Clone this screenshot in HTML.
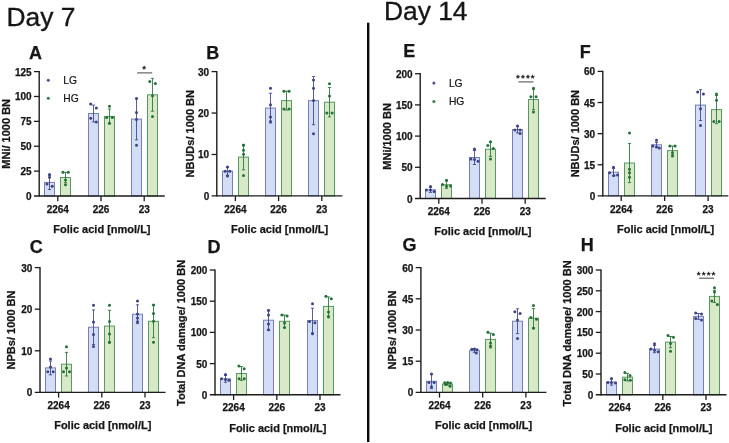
<!DOCTYPE html>
<html><head><meta charset="utf-8"><title>Folic acid figure</title>
<style>svg text[font-weight="bold"]{stroke:#161616;stroke-width:0.25}
html,body{margin:0;padding:0;background:#fff;width:729px;height:443px;overflow:hidden}
svg{display:block;font-family:"Liberation Sans", sans-serif;will-change:transform}</style></head>
<body>
<svg width="729" height="443" viewBox="0 0 729 443">
<rect width="729" height="443" fill="#ffffff"/>
<text x="6.4" y="25.9" font-size="26.4" stroke="#161616" stroke-width="0.35" fill="#161616" font-family='"Liberation Sans", sans-serif'>Day 7</text>
<text x="383.9" y="19.8" font-size="26.4" stroke="#161616" stroke-width="0.35" fill="#161616" font-family='"Liberation Sans", sans-serif'>Day 14</text>
<rect x="367.0" y="22.7" width="2.4" height="419.3" fill="#0a0a0a"/>
<rect x="44.5" y="182.4" width="10" height="13.6" fill="#d3def6" stroke="#7780b4" stroke-width="1"/>
<line x1="49.5" y1="175.3" x2="49.5" y2="189.5" stroke="#3d4185" stroke-width="0.85"/>
<line x1="47.9" y1="175.3" x2="51.1" y2="175.3" stroke="#3d4185" stroke-width="0.85"/>
<line x1="47.9" y1="189.5" x2="51.1" y2="189.5" stroke="#3d4185" stroke-width="0.85"/>
<circle cx="49.5" cy="174.6" r="1.5" fill="#3d4185"/>
<circle cx="49.5" cy="177.2" r="1.5" fill="#3d4185"/>
<circle cx="47" cy="184" r="1.5" fill="#3d4185"/>
<circle cx="52.2" cy="186.2" r="1.5" fill="#3d4185"/>
<rect x="60.5" y="177.5" width="10" height="18.5" fill="#d8e9c8" stroke="#5a9863" stroke-width="1"/>
<line x1="65.5" y1="172.3" x2="65.5" y2="182.7" stroke="#237038" stroke-width="0.85"/>
<line x1="63.9" y1="172.3" x2="67.1" y2="172.3" stroke="#237038" stroke-width="0.85"/>
<line x1="63.9" y1="182.7" x2="67.1" y2="182.7" stroke="#237038" stroke-width="0.85"/>
<circle cx="62.9" cy="172.3" r="1.5" fill="#237038"/>
<circle cx="68.3" cy="172.3" r="1.5" fill="#237038"/>
<circle cx="65.5" cy="180" r="1.5" fill="#237038"/>
<circle cx="65.5" cy="184.8" r="1.5" fill="#237038"/>
<rect x="88.5" y="113.5" width="10" height="82.5" fill="#d3def6" stroke="#7780b4" stroke-width="1"/>
<line x1="93.5" y1="105.1" x2="93.5" y2="121.9" stroke="#3d4185" stroke-width="0.85"/>
<line x1="91.9" y1="105.1" x2="95.1" y2="105.1" stroke="#3d4185" stroke-width="0.85"/>
<line x1="91.9" y1="121.9" x2="95.1" y2="121.9" stroke="#3d4185" stroke-width="0.85"/>
<circle cx="90.7" cy="104" r="1.5" fill="#3d4185"/>
<circle cx="96.3" cy="108.1" r="1.5" fill="#3d4185"/>
<circle cx="90.7" cy="118.2" r="1.5" fill="#3d4185"/>
<circle cx="96.3" cy="122.1" r="1.5" fill="#3d4185"/>
<rect x="104.5" y="116.4" width="10" height="79.6" fill="#d8e9c8" stroke="#5a9863" stroke-width="1"/>
<line x1="109.5" y1="109" x2="109.5" y2="123.8" stroke="#237038" stroke-width="0.85"/>
<line x1="107.9" y1="109" x2="111.1" y2="109" stroke="#237038" stroke-width="0.85"/>
<line x1="107.9" y1="123.8" x2="111.1" y2="123.8" stroke="#237038" stroke-width="0.85"/>
<circle cx="109.5" cy="106.3" r="1.5" fill="#237038"/>
<circle cx="106.7" cy="117.6" r="1.5" fill="#237038"/>
<circle cx="112.3" cy="117.6" r="1.5" fill="#237038"/>
<circle cx="109.5" cy="123.2" r="1.5" fill="#237038"/>
<rect x="131.5" y="119.1" width="10" height="76.9" fill="#d3def6" stroke="#7780b4" stroke-width="1"/>
<line x1="136.5" y1="98.4" x2="136.5" y2="139.8" stroke="#3d4185" stroke-width="0.85"/>
<line x1="134.9" y1="98.4" x2="138.1" y2="98.4" stroke="#3d4185" stroke-width="0.85"/>
<line x1="134.9" y1="139.8" x2="138.1" y2="139.8" stroke="#3d4185" stroke-width="0.85"/>
<circle cx="136.5" cy="98.4" r="1.5" fill="#3d4185"/>
<circle cx="136.5" cy="112.4" r="1.5" fill="#3d4185"/>
<circle cx="136.5" cy="119.4" r="1.5" fill="#3d4185"/>
<circle cx="136.5" cy="145.3" r="1.5" fill="#3d4185"/>
<rect x="147.5" y="94.8" width="10" height="101.2" fill="#d8e9c8" stroke="#5a9863" stroke-width="1"/>
<line x1="152.5" y1="78.4" x2="152.5" y2="111.2" stroke="#237038" stroke-width="0.85"/>
<line x1="150.9" y1="78.4" x2="154.1" y2="78.4" stroke="#237038" stroke-width="0.85"/>
<line x1="150.9" y1="111.2" x2="154.1" y2="111.2" stroke="#237038" stroke-width="0.85"/>
<circle cx="149.8" cy="81.4" r="1.5" fill="#237038"/>
<circle cx="155.4" cy="83.5" r="1.5" fill="#237038"/>
<circle cx="152.5" cy="95.7" r="1.5" fill="#237038"/>
<circle cx="152.5" cy="116.5" r="1.5" fill="#237038"/>
<line x1="39.2" y1="71" x2="39.2" y2="196.6" stroke="#1c1c1c" stroke-width="1.4"/>
<line x1="34" y1="196" x2="164.7" y2="196" stroke="#1c1c1c" stroke-width="1.4"/>
<text x="31.6" y="200" font-size="10" font-weight="bold" text-anchor="end" fill="#161616" font-family='"Liberation Sans", sans-serif'>0</text>
<line x1="34" y1="171.12" x2="39.2" y2="171.12" stroke="#1c1c1c" stroke-width="1.3"/>
<text x="31.6" y="175.12" font-size="10" font-weight="bold" text-anchor="end" fill="#161616" font-family='"Liberation Sans", sans-serif'>25</text>
<line x1="34" y1="146.24" x2="39.2" y2="146.24" stroke="#1c1c1c" stroke-width="1.3"/>
<text x="31.6" y="150.24" font-size="10" font-weight="bold" text-anchor="end" fill="#161616" font-family='"Liberation Sans", sans-serif'>50</text>
<line x1="34" y1="121.36" x2="39.2" y2="121.36" stroke="#1c1c1c" stroke-width="1.3"/>
<text x="31.6" y="125.36" font-size="10" font-weight="bold" text-anchor="end" fill="#161616" font-family='"Liberation Sans", sans-serif'>75</text>
<line x1="34" y1="96.48" x2="39.2" y2="96.48" stroke="#1c1c1c" stroke-width="1.3"/>
<text x="31.6" y="100.48" font-size="10" font-weight="bold" text-anchor="end" fill="#161616" font-family='"Liberation Sans", sans-serif'>100</text>
<line x1="34" y1="71.6" x2="39.2" y2="71.6" stroke="#1c1c1c" stroke-width="1.3"/>
<text x="31.6" y="75.6" font-size="10" font-weight="bold" text-anchor="end" fill="#161616" font-family='"Liberation Sans", sans-serif'>125</text>
<line x1="57.8" y1="196" x2="57.8" y2="201.2" stroke="#1c1c1c" stroke-width="1.3"/>
<text x="57.8" y="212.6" font-size="10" font-weight="bold" text-anchor="middle" fill="#161616" font-family='"Liberation Sans", sans-serif'>2264</text>
<line x1="101" y1="196" x2="101" y2="201.2" stroke="#1c1c1c" stroke-width="1.3"/>
<text x="101" y="212.6" font-size="10" font-weight="bold" text-anchor="middle" fill="#161616" font-family='"Liberation Sans", sans-serif'>226</text>
<line x1="144.2" y1="196" x2="144.2" y2="201.2" stroke="#1c1c1c" stroke-width="1.3"/>
<text x="144.2" y="212.6" font-size="10" font-weight="bold" text-anchor="middle" fill="#161616" font-family='"Liberation Sans", sans-serif'>23</text>
<text x="101.95" y="232.8" font-size="11" font-weight="bold" text-anchor="middle" fill="#161616" font-family='"Liberation Sans", sans-serif'>Folic acid [nmol/L]</text>
<text x="10.46" y="133.8" font-size="11" font-weight="bold" text-anchor="middle" fill="#161616" font-family='"Liberation Sans", sans-serif' transform="rotate(-90 10.46 133.8)">MNi/ 1000 BN</text>
<text x="29" y="58.6" font-size="18" font-weight="bold" fill="#161616" font-family='"Liberation Sans", sans-serif'>A</text>
<circle cx="48.3" cy="80.3" r="1.55" fill="#3d4185" fill-opacity="0.9"/>
<circle cx="48.3" cy="98.3" r="1.55" fill="#237038" fill-opacity="0.9"/>
<text x="63.3" y="83.7" font-size="10.3" stroke="#161616" stroke-width="0.2" fill="#161616" font-family='"Liberation Sans", sans-serif'>LG</text>
<text x="63.3" y="101.7" font-size="10.3" stroke="#161616" stroke-width="0.2" fill="#161616" font-family='"Liberation Sans", sans-serif'>HG</text>
<text x="144.8" y="72.4" font-size="9.8" stroke="#161616" stroke-width="0.35" letter-spacing="1.1" text-anchor="middle" fill="#161616" font-family='"Liberation Sans", sans-serif'>*</text>
<line x1="137.1" y1="72.9" x2="152.2" y2="72.9" stroke="#555555" stroke-width="1.1"/>
<rect x="222.5" y="171.2" width="10" height="24.7" fill="#d3def6" stroke="#7780b4" stroke-width="1"/>
<line x1="227.5" y1="167.1" x2="227.5" y2="175.3" stroke="#3d4185" stroke-width="0.85"/>
<line x1="225.9" y1="167.1" x2="229.1" y2="167.1" stroke="#3d4185" stroke-width="0.85"/>
<line x1="225.9" y1="175.3" x2="229.1" y2="175.3" stroke="#3d4185" stroke-width="0.85"/>
<circle cx="227.5" cy="167.1" r="1.5" fill="#3d4185"/>
<circle cx="225.2" cy="171.2" r="1.5" fill="#3d4185"/>
<circle cx="229.8" cy="171.2" r="1.5" fill="#3d4185"/>
<circle cx="227.5" cy="176.1" r="1.5" fill="#3d4185"/>
<rect x="238.5" y="157.1" width="10" height="38.8" fill="#d8e9c8" stroke="#5a9863" stroke-width="1"/>
<line x1="243.5" y1="144.4" x2="243.5" y2="169.8" stroke="#237038" stroke-width="0.85"/>
<line x1="241.9" y1="144.4" x2="245.1" y2="144.4" stroke="#237038" stroke-width="0.85"/>
<line x1="241.9" y1="169.8" x2="245.1" y2="169.8" stroke="#237038" stroke-width="0.85"/>
<circle cx="243.5" cy="145.2" r="1.5" fill="#237038"/>
<circle cx="243.5" cy="150.2" r="1.5" fill="#237038"/>
<circle cx="243.5" cy="154.3" r="1.5" fill="#237038"/>
<circle cx="243.5" cy="175.6" r="1.5" fill="#237038"/>
<rect x="265.5" y="108.1" width="10" height="87.8" fill="#d3def6" stroke="#7780b4" stroke-width="1"/>
<line x1="270.5" y1="93.2" x2="270.5" y2="123" stroke="#3d4185" stroke-width="0.85"/>
<line x1="268.9" y1="93.2" x2="272.1" y2="93.2" stroke="#3d4185" stroke-width="0.85"/>
<line x1="268.9" y1="123" x2="272.1" y2="123" stroke="#3d4185" stroke-width="0.85"/>
<circle cx="270.5" cy="88.2" r="1.5" fill="#3d4185"/>
<circle cx="270.5" cy="104.7" r="1.5" fill="#3d4185"/>
<circle cx="270.5" cy="116.9" r="1.5" fill="#3d4185"/>
<circle cx="270.5" cy="121.4" r="1.5" fill="#3d4185"/>
<rect x="281.5" y="100.6" width="10" height="95.3" fill="#d8e9c8" stroke="#5a9863" stroke-width="1"/>
<line x1="286.5" y1="91.2" x2="286.5" y2="110" stroke="#237038" stroke-width="0.85"/>
<line x1="284.9" y1="91.2" x2="288.1" y2="91.2" stroke="#237038" stroke-width="0.85"/>
<line x1="284.9" y1="110" x2="288.1" y2="110" stroke="#237038" stroke-width="0.85"/>
<circle cx="283.9" cy="91.2" r="1.5" fill="#237038"/>
<circle cx="289.1" cy="91.2" r="1.5" fill="#237038"/>
<circle cx="283.9" cy="109" r="1.5" fill="#237038"/>
<circle cx="289.1" cy="109" r="1.5" fill="#237038"/>
<rect x="308.5" y="100.6" width="10" height="95.3" fill="#d3def6" stroke="#7780b4" stroke-width="1"/>
<line x1="313.5" y1="76.5" x2="313.5" y2="124.7" stroke="#3d4185" stroke-width="0.85"/>
<line x1="311.9" y1="76.5" x2="315.1" y2="76.5" stroke="#3d4185" stroke-width="0.85"/>
<line x1="311.9" y1="124.7" x2="315.1" y2="124.7" stroke="#3d4185" stroke-width="0.85"/>
<circle cx="313.5" cy="79.9" r="1.5" fill="#3d4185"/>
<circle cx="313.5" cy="88.2" r="1.5" fill="#3d4185"/>
<circle cx="313.5" cy="100.6" r="1.5" fill="#3d4185"/>
<circle cx="313.5" cy="133.8" r="1.5" fill="#3d4185"/>
<rect x="324.5" y="102.2" width="10" height="93.7" fill="#d8e9c8" stroke="#5a9863" stroke-width="1"/>
<line x1="329.5" y1="87.5" x2="329.5" y2="116.9" stroke="#237038" stroke-width="0.85"/>
<line x1="327.9" y1="87.5" x2="331.1" y2="87.5" stroke="#237038" stroke-width="0.85"/>
<line x1="327.9" y1="116.9" x2="331.1" y2="116.9" stroke="#237038" stroke-width="0.85"/>
<circle cx="329.5" cy="83.7" r="1.5" fill="#237038"/>
<circle cx="329.5" cy="96.1" r="1.5" fill="#237038"/>
<circle cx="326.9" cy="113" r="1.5" fill="#237038"/>
<circle cx="332.1" cy="113" r="1.5" fill="#237038"/>
<line x1="216.8" y1="71" x2="216.8" y2="196.5" stroke="#1c1c1c" stroke-width="1.4"/>
<line x1="211.6" y1="195.9" x2="342.3" y2="195.9" stroke="#1c1c1c" stroke-width="1.4"/>
<text x="209.2" y="199.9" font-size="10" font-weight="bold" text-anchor="end" fill="#161616" font-family='"Liberation Sans", sans-serif'>0</text>
<line x1="211.6" y1="154.47" x2="216.8" y2="154.47" stroke="#1c1c1c" stroke-width="1.3"/>
<text x="209.2" y="158.47" font-size="10" font-weight="bold" text-anchor="end" fill="#161616" font-family='"Liberation Sans", sans-serif'>10</text>
<line x1="211.6" y1="113.03" x2="216.8" y2="113.03" stroke="#1c1c1c" stroke-width="1.3"/>
<text x="209.2" y="117.03" font-size="10" font-weight="bold" text-anchor="end" fill="#161616" font-family='"Liberation Sans", sans-serif'>20</text>
<line x1="211.6" y1="71.6" x2="216.8" y2="71.6" stroke="#1c1c1c" stroke-width="1.3"/>
<text x="209.2" y="75.6" font-size="10" font-weight="bold" text-anchor="end" fill="#161616" font-family='"Liberation Sans", sans-serif'>30</text>
<line x1="235.4" y1="195.9" x2="235.4" y2="201.1" stroke="#1c1c1c" stroke-width="1.3"/>
<text x="235.4" y="212.5" font-size="10" font-weight="bold" text-anchor="middle" fill="#161616" font-family='"Liberation Sans", sans-serif'>2264</text>
<line x1="278.6" y1="195.9" x2="278.6" y2="201.1" stroke="#1c1c1c" stroke-width="1.3"/>
<text x="278.6" y="212.5" font-size="10" font-weight="bold" text-anchor="middle" fill="#161616" font-family='"Liberation Sans", sans-serif'>226</text>
<line x1="321.8" y1="195.9" x2="321.8" y2="201.1" stroke="#1c1c1c" stroke-width="1.3"/>
<text x="321.8" y="212.5" font-size="10" font-weight="bold" text-anchor="middle" fill="#161616" font-family='"Liberation Sans", sans-serif'>23</text>
<text x="279.55" y="232.7" font-size="11" font-weight="bold" text-anchor="middle" fill="#161616" font-family='"Liberation Sans", sans-serif'>Folic acid [nmol/L]</text>
<text x="193.96" y="133.75" font-size="11" font-weight="bold" text-anchor="middle" fill="#161616" font-family='"Liberation Sans", sans-serif' transform="rotate(-90 193.96 133.75)">NBUDs/ 1000 BN</text>
<text x="206.2" y="59.2" font-size="18" font-weight="bold" fill="#161616" font-family='"Liberation Sans", sans-serif'>B</text>
<rect x="45.5" y="367.9" width="10" height="24.5" fill="#d3def6" stroke="#7780b4" stroke-width="1"/>
<line x1="50.5" y1="361" x2="50.5" y2="374.8" stroke="#3d4185" stroke-width="0.85"/>
<line x1="48.9" y1="361" x2="52.1" y2="361" stroke="#3d4185" stroke-width="0.85"/>
<line x1="48.9" y1="374.8" x2="52.1" y2="374.8" stroke="#3d4185" stroke-width="0.85"/>
<circle cx="50.5" cy="358.9" r="1.5" fill="#3d4185"/>
<circle cx="50.5" cy="367" r="1.5" fill="#3d4185"/>
<circle cx="47.8" cy="371.7" r="1.5" fill="#3d4185"/>
<circle cx="53.2" cy="371.7" r="1.5" fill="#3d4185"/>
<rect x="61.5" y="364.2" width="10" height="28.2" fill="#d8e9c8" stroke="#5a9863" stroke-width="1"/>
<line x1="66.5" y1="352.4" x2="66.5" y2="376" stroke="#237038" stroke-width="0.85"/>
<line x1="64.9" y1="352.4" x2="68.1" y2="352.4" stroke="#237038" stroke-width="0.85"/>
<line x1="64.9" y1="376" x2="68.1" y2="376" stroke="#237038" stroke-width="0.85"/>
<circle cx="66.5" cy="346.8" r="1.5" fill="#237038"/>
<circle cx="66.5" cy="368" r="1.5" fill="#237038"/>
<circle cx="63.5" cy="371.7" r="1.5" fill="#237038"/>
<circle cx="69.5" cy="371.7" r="1.5" fill="#237038"/>
<rect x="88.5" y="327.2" width="10" height="65.2" fill="#d3def6" stroke="#7780b4" stroke-width="1"/>
<line x1="93.5" y1="309.9" x2="93.5" y2="344.5" stroke="#3d4185" stroke-width="0.85"/>
<line x1="91.9" y1="309.9" x2="95.1" y2="309.9" stroke="#3d4185" stroke-width="0.85"/>
<line x1="91.9" y1="344.5" x2="95.1" y2="344.5" stroke="#3d4185" stroke-width="0.85"/>
<circle cx="93.5" cy="305.3" r="1.5" fill="#3d4185"/>
<circle cx="93.5" cy="322" r="1.5" fill="#3d4185"/>
<circle cx="93.5" cy="334.5" r="1.5" fill="#3d4185"/>
<circle cx="93.5" cy="346.4" r="1.5" fill="#3d4185"/>
<rect x="104.5" y="326.1" width="10" height="66.3" fill="#d8e9c8" stroke="#5a9863" stroke-width="1"/>
<line x1="109.5" y1="310.3" x2="109.5" y2="341.9" stroke="#237038" stroke-width="0.85"/>
<line x1="107.9" y1="310.3" x2="111.1" y2="310.3" stroke="#237038" stroke-width="0.85"/>
<line x1="107.9" y1="341.9" x2="111.1" y2="341.9" stroke="#237038" stroke-width="0.85"/>
<circle cx="109.5" cy="305.3" r="1.5" fill="#237038"/>
<circle cx="109.5" cy="321.6" r="1.5" fill="#237038"/>
<circle cx="109.5" cy="334" r="1.5" fill="#237038"/>
<circle cx="109.5" cy="342.6" r="1.5" fill="#237038"/>
<rect x="132.5" y="314.2" width="10" height="78.2" fill="#d3def6" stroke="#7780b4" stroke-width="1"/>
<line x1="137.5" y1="304.8" x2="137.5" y2="323.6" stroke="#3d4185" stroke-width="0.85"/>
<line x1="135.9" y1="304.8" x2="139.1" y2="304.8" stroke="#3d4185" stroke-width="0.85"/>
<line x1="135.9" y1="323.6" x2="139.1" y2="323.6" stroke="#3d4185" stroke-width="0.85"/>
<circle cx="137.5" cy="301" r="1.5" fill="#3d4185"/>
<circle cx="137.5" cy="313.9" r="1.5" fill="#3d4185"/>
<circle cx="137.5" cy="318" r="1.5" fill="#3d4185"/>
<circle cx="137.5" cy="321.7" r="1.5" fill="#3d4185"/>
<rect x="148.5" y="321.3" width="10" height="71.1" fill="#d8e9c8" stroke="#5a9863" stroke-width="1"/>
<line x1="153.5" y1="304.9" x2="153.5" y2="337.7" stroke="#237038" stroke-width="0.85"/>
<line x1="151.9" y1="304.9" x2="155.1" y2="304.9" stroke="#237038" stroke-width="0.85"/>
<line x1="151.9" y1="337.7" x2="155.1" y2="337.7" stroke="#237038" stroke-width="0.85"/>
<circle cx="153.5" cy="304.9" r="1.5" fill="#237038"/>
<circle cx="153.5" cy="313.6" r="1.5" fill="#237038"/>
<circle cx="153.5" cy="321.3" r="1.5" fill="#237038"/>
<circle cx="153.5" cy="342.2" r="1.5" fill="#237038"/>
<line x1="40" y1="267" x2="40" y2="393" stroke="#1c1c1c" stroke-width="1.4"/>
<line x1="34.8" y1="392.4" x2="165.5" y2="392.4" stroke="#1c1c1c" stroke-width="1.4"/>
<text x="32.4" y="396.4" font-size="10" font-weight="bold" text-anchor="end" fill="#161616" font-family='"Liberation Sans", sans-serif'>0</text>
<line x1="34.8" y1="350.8" x2="40" y2="350.8" stroke="#1c1c1c" stroke-width="1.3"/>
<text x="32.4" y="354.8" font-size="10" font-weight="bold" text-anchor="end" fill="#161616" font-family='"Liberation Sans", sans-serif'>10</text>
<line x1="34.8" y1="309.2" x2="40" y2="309.2" stroke="#1c1c1c" stroke-width="1.3"/>
<text x="32.4" y="313.2" font-size="10" font-weight="bold" text-anchor="end" fill="#161616" font-family='"Liberation Sans", sans-serif'>20</text>
<line x1="34.8" y1="267.6" x2="40" y2="267.6" stroke="#1c1c1c" stroke-width="1.3"/>
<text x="32.4" y="271.6" font-size="10" font-weight="bold" text-anchor="end" fill="#161616" font-family='"Liberation Sans", sans-serif'>30</text>
<line x1="58.6" y1="392.4" x2="58.6" y2="397.6" stroke="#1c1c1c" stroke-width="1.3"/>
<text x="58.6" y="409" font-size="10" font-weight="bold" text-anchor="middle" fill="#161616" font-family='"Liberation Sans", sans-serif'>2264</text>
<line x1="101.8" y1="392.4" x2="101.8" y2="397.6" stroke="#1c1c1c" stroke-width="1.3"/>
<text x="101.8" y="409" font-size="10" font-weight="bold" text-anchor="middle" fill="#161616" font-family='"Liberation Sans", sans-serif'>226</text>
<line x1="145" y1="392.4" x2="145" y2="397.6" stroke="#1c1c1c" stroke-width="1.3"/>
<text x="145" y="409" font-size="10" font-weight="bold" text-anchor="middle" fill="#161616" font-family='"Liberation Sans", sans-serif'>23</text>
<text x="102.75" y="429.2" font-size="11" font-weight="bold" text-anchor="middle" fill="#161616" font-family='"Liberation Sans", sans-serif'>Folic acid [nmol/L]</text>
<text x="15.26" y="330" font-size="11" font-weight="bold" text-anchor="middle" fill="#161616" font-family='"Liberation Sans", sans-serif' transform="rotate(-90 15.26 330)">NPBs/ 1000 BN</text>
<text x="29.7" y="252.6" font-size="18" font-weight="bold" fill="#161616" font-family='"Liberation Sans", sans-serif'>C</text>
<rect x="220.5" y="378.9" width="10" height="15.9" fill="#d3def6" stroke="#7780b4" stroke-width="1"/>
<line x1="225.5" y1="375.5" x2="225.5" y2="382.3" stroke="#3d4185" stroke-width="0.85"/>
<line x1="223.9" y1="375.5" x2="227.1" y2="375.5" stroke="#3d4185" stroke-width="0.85"/>
<line x1="223.9" y1="382.3" x2="227.1" y2="382.3" stroke="#3d4185" stroke-width="0.85"/>
<circle cx="225.5" cy="374.4" r="1.5" fill="#3d4185"/>
<circle cx="221.5" cy="378.7" r="1.5" fill="#3d4185"/>
<circle cx="225.5" cy="379.6" r="1.5" fill="#3d4185"/>
<circle cx="228.9" cy="380.3" r="1.5" fill="#3d4185"/>
<rect x="236.5" y="373.5" width="10" height="21.3" fill="#d8e9c8" stroke="#5a9863" stroke-width="1"/>
<line x1="241.5" y1="366.6" x2="241.5" y2="380.4" stroke="#237038" stroke-width="0.85"/>
<line x1="239.9" y1="366.6" x2="243.1" y2="366.6" stroke="#237038" stroke-width="0.85"/>
<line x1="239.9" y1="380.4" x2="243.1" y2="380.4" stroke="#237038" stroke-width="0.85"/>
<circle cx="238.9" cy="366" r="1.5" fill="#237038"/>
<circle cx="244.2" cy="368.7" r="1.5" fill="#237038"/>
<circle cx="239.1" cy="378.7" r="1.5" fill="#237038"/>
<circle cx="244.2" cy="378.7" r="1.5" fill="#237038"/>
<rect x="263.5" y="320.2" width="10" height="74.6" fill="#d3def6" stroke="#7780b4" stroke-width="1"/>
<line x1="268.5" y1="310" x2="268.5" y2="330.4" stroke="#3d4185" stroke-width="0.85"/>
<line x1="266.9" y1="310" x2="270.1" y2="310" stroke="#3d4185" stroke-width="0.85"/>
<line x1="266.9" y1="330.4" x2="270.1" y2="330.4" stroke="#3d4185" stroke-width="0.85"/>
<circle cx="268.5" cy="310.5" r="1.5" fill="#3d4185"/>
<circle cx="268.5" cy="315" r="1.5" fill="#3d4185"/>
<circle cx="268.5" cy="324" r="1.5" fill="#3d4185"/>
<circle cx="268.5" cy="329.7" r="1.5" fill="#3d4185"/>
<rect x="279.5" y="321.3" width="10" height="73.5" fill="#d8e9c8" stroke="#5a9863" stroke-width="1"/>
<line x1="284.5" y1="315" x2="284.5" y2="327.6" stroke="#237038" stroke-width="0.85"/>
<line x1="282.9" y1="315" x2="286.1" y2="315" stroke="#237038" stroke-width="0.85"/>
<line x1="282.9" y1="327.6" x2="286.1" y2="327.6" stroke="#237038" stroke-width="0.85"/>
<circle cx="281.9" cy="315" r="1.5" fill="#237038"/>
<circle cx="287.1" cy="316" r="1.5" fill="#237038"/>
<circle cx="284.5" cy="322.9" r="1.5" fill="#237038"/>
<circle cx="284.5" cy="327.4" r="1.5" fill="#237038"/>
<rect x="307.5" y="320.6" width="10" height="74.2" fill="#d3def6" stroke="#7780b4" stroke-width="1"/>
<line x1="312.5" y1="308.2" x2="312.5" y2="333" stroke="#3d4185" stroke-width="0.85"/>
<line x1="310.9" y1="308.2" x2="314.1" y2="308.2" stroke="#3d4185" stroke-width="0.85"/>
<line x1="310.9" y1="333" x2="314.1" y2="333" stroke="#3d4185" stroke-width="0.85"/>
<circle cx="312.5" cy="303.7" r="1.5" fill="#3d4185"/>
<circle cx="309.5" cy="321.4" r="1.5" fill="#3d4185"/>
<circle cx="314.9" cy="322.8" r="1.5" fill="#3d4185"/>
<circle cx="312.5" cy="333.7" r="1.5" fill="#3d4185"/>
<rect x="323.5" y="306.4" width="10" height="88.4" fill="#d8e9c8" stroke="#5a9863" stroke-width="1"/>
<line x1="328.5" y1="296.9" x2="328.5" y2="315.9" stroke="#237038" stroke-width="0.85"/>
<line x1="326.9" y1="296.9" x2="330.1" y2="296.9" stroke="#237038" stroke-width="0.85"/>
<line x1="326.9" y1="315.9" x2="330.1" y2="315.9" stroke="#237038" stroke-width="0.85"/>
<circle cx="325.9" cy="296.2" r="1.5" fill="#237038"/>
<circle cx="331.3" cy="298.8" r="1.5" fill="#237038"/>
<circle cx="328.5" cy="312" r="1.5" fill="#237038"/>
<circle cx="328.5" cy="317.1" r="1.5" fill="#237038"/>
<line x1="215" y1="269.4" x2="215" y2="395.4" stroke="#1c1c1c" stroke-width="1.4"/>
<line x1="209.8" y1="394.8" x2="340.5" y2="394.8" stroke="#1c1c1c" stroke-width="1.4"/>
<text x="207.4" y="398.8" font-size="10" font-weight="bold" text-anchor="end" fill="#161616" font-family='"Liberation Sans", sans-serif'>0</text>
<line x1="209.8" y1="363.6" x2="215" y2="363.6" stroke="#1c1c1c" stroke-width="1.3"/>
<text x="207.4" y="367.6" font-size="10" font-weight="bold" text-anchor="end" fill="#161616" font-family='"Liberation Sans", sans-serif'>50</text>
<line x1="209.8" y1="332.4" x2="215" y2="332.4" stroke="#1c1c1c" stroke-width="1.3"/>
<text x="207.4" y="336.4" font-size="10" font-weight="bold" text-anchor="end" fill="#161616" font-family='"Liberation Sans", sans-serif'>100</text>
<line x1="209.8" y1="301.2" x2="215" y2="301.2" stroke="#1c1c1c" stroke-width="1.3"/>
<text x="207.4" y="305.2" font-size="10" font-weight="bold" text-anchor="end" fill="#161616" font-family='"Liberation Sans", sans-serif'>150</text>
<line x1="209.8" y1="270" x2="215" y2="270" stroke="#1c1c1c" stroke-width="1.3"/>
<text x="207.4" y="274" font-size="10" font-weight="bold" text-anchor="end" fill="#161616" font-family='"Liberation Sans", sans-serif'>200</text>
<line x1="233.6" y1="394.8" x2="233.6" y2="400" stroke="#1c1c1c" stroke-width="1.3"/>
<text x="233.6" y="411.4" font-size="10" font-weight="bold" text-anchor="middle" fill="#161616" font-family='"Liberation Sans", sans-serif'>2264</text>
<line x1="276.8" y1="394.8" x2="276.8" y2="400" stroke="#1c1c1c" stroke-width="1.3"/>
<text x="276.8" y="411.4" font-size="10" font-weight="bold" text-anchor="middle" fill="#161616" font-family='"Liberation Sans", sans-serif'>226</text>
<line x1="320" y1="394.8" x2="320" y2="400" stroke="#1c1c1c" stroke-width="1.3"/>
<text x="320" y="411.4" font-size="10" font-weight="bold" text-anchor="middle" fill="#161616" font-family='"Liberation Sans", sans-serif'>23</text>
<text x="277.75" y="431.6" font-size="11" font-weight="bold" text-anchor="middle" fill="#161616" font-family='"Liberation Sans", sans-serif'>Folic acid [nmol/L]</text>
<text x="185.16" y="332.9" font-size="11" font-weight="bold" text-anchor="middle" fill="#161616" font-family='"Liberation Sans", sans-serif' transform="rotate(-90 185.16 332.9)">Total DNA damage/ 1000 BN</text>
<text x="207.5" y="252.6" font-size="18" font-weight="bold" fill="#161616" font-family='"Liberation Sans", sans-serif'>D</text>
<rect x="425.5" y="189.8" width="10" height="8.7" fill="#d3def6" stroke="#7780b4" stroke-width="1"/>
<line x1="430.5" y1="187.2" x2="430.5" y2="192.4" stroke="#3d4185" stroke-width="0.85"/>
<line x1="428.9" y1="187.2" x2="432.1" y2="187.2" stroke="#3d4185" stroke-width="0.85"/>
<line x1="428.9" y1="192.4" x2="432.1" y2="192.4" stroke="#3d4185" stroke-width="0.85"/>
<circle cx="426.4" cy="190" r="1.5" fill="#3d4185"/>
<circle cx="430.5" cy="186.6" r="1.5" fill="#3d4185"/>
<circle cx="430.5" cy="190" r="1.5" fill="#3d4185"/>
<circle cx="434.1" cy="191.5" r="1.5" fill="#3d4185"/>
<rect x="441.5" y="184.7" width="10" height="13.8" fill="#d8e9c8" stroke="#5a9863" stroke-width="1"/>
<line x1="446.5" y1="181" x2="446.5" y2="188.4" stroke="#237038" stroke-width="0.85"/>
<line x1="444.9" y1="181" x2="448.1" y2="181" stroke="#237038" stroke-width="0.85"/>
<line x1="444.9" y1="188.4" x2="448.1" y2="188.4" stroke="#237038" stroke-width="0.85"/>
<circle cx="446.5" cy="180.2" r="1.5" fill="#237038"/>
<circle cx="442.5" cy="184.6" r="1.5" fill="#237038"/>
<circle cx="446.5" cy="186.2" r="1.5" fill="#237038"/>
<circle cx="450.5" cy="185.9" r="1.5" fill="#237038"/>
<rect x="469.5" y="157.5" width="10" height="41" fill="#d3def6" stroke="#7780b4" stroke-width="1"/>
<line x1="474.5" y1="150.5" x2="474.5" y2="164.5" stroke="#3d4185" stroke-width="0.85"/>
<line x1="472.9" y1="150.5" x2="476.1" y2="150.5" stroke="#3d4185" stroke-width="0.85"/>
<line x1="472.9" y1="164.5" x2="476.1" y2="164.5" stroke="#3d4185" stroke-width="0.85"/>
<circle cx="474.5" cy="149" r="1.5" fill="#3d4185"/>
<circle cx="470.9" cy="158.9" r="1.5" fill="#3d4185"/>
<circle cx="474.5" cy="159.6" r="1.5" fill="#3d4185"/>
<circle cx="478.1" cy="161.2" r="1.5" fill="#3d4185"/>
<rect x="485.5" y="149.2" width="10" height="49.3" fill="#d8e9c8" stroke="#5a9863" stroke-width="1"/>
<line x1="490.5" y1="142" x2="490.5" y2="156.4" stroke="#237038" stroke-width="0.85"/>
<line x1="488.9" y1="142" x2="492.1" y2="142" stroke="#237038" stroke-width="0.85"/>
<line x1="488.9" y1="156.4" x2="492.1" y2="156.4" stroke="#237038" stroke-width="0.85"/>
<circle cx="490.5" cy="141.7" r="1.5" fill="#237038"/>
<circle cx="487.8" cy="145.4" r="1.5" fill="#237038"/>
<circle cx="493.3" cy="148.6" r="1.5" fill="#237038"/>
<circle cx="490.5" cy="158.9" r="1.5" fill="#237038"/>
<rect x="512.5" y="129.5" width="10" height="69" fill="#d3def6" stroke="#7780b4" stroke-width="1"/>
<line x1="517.5" y1="126" x2="517.5" y2="133" stroke="#3d4185" stroke-width="0.85"/>
<line x1="515.9" y1="126" x2="519.1" y2="126" stroke="#3d4185" stroke-width="0.85"/>
<line x1="515.9" y1="133" x2="519.1" y2="133" stroke="#3d4185" stroke-width="0.85"/>
<circle cx="517.5" cy="126.1" r="1.5" fill="#3d4185"/>
<circle cx="514.9" cy="130" r="1.5" fill="#3d4185"/>
<circle cx="520.1" cy="130" r="1.5" fill="#3d4185"/>
<circle cx="520.1" cy="133.4" r="1.5" fill="#3d4185"/>
<rect x="528.5" y="99.5" width="10" height="99" fill="#d8e9c8" stroke="#5a9863" stroke-width="1"/>
<line x1="533.5" y1="89.3" x2="533.5" y2="109.7" stroke="#237038" stroke-width="0.85"/>
<line x1="531.9" y1="89.3" x2="535.1" y2="89.3" stroke="#237038" stroke-width="0.85"/>
<line x1="531.9" y1="109.7" x2="535.1" y2="109.7" stroke="#237038" stroke-width="0.85"/>
<circle cx="533.5" cy="88.2" r="1.5" fill="#237038"/>
<circle cx="530.9" cy="96.8" r="1.5" fill="#237038"/>
<circle cx="536.1" cy="96.8" r="1.5" fill="#237038"/>
<circle cx="533.5" cy="111.9" r="1.5" fill="#237038"/>
<line x1="420.2" y1="73.1" x2="420.2" y2="199.1" stroke="#1c1c1c" stroke-width="1.4"/>
<line x1="415" y1="198.5" x2="545.7" y2="198.5" stroke="#1c1c1c" stroke-width="1.4"/>
<text x="412.6" y="202.5" font-size="10" font-weight="bold" text-anchor="end" fill="#161616" font-family='"Liberation Sans", sans-serif'>0</text>
<line x1="415" y1="167.3" x2="420.2" y2="167.3" stroke="#1c1c1c" stroke-width="1.3"/>
<text x="412.6" y="171.3" font-size="10" font-weight="bold" text-anchor="end" fill="#161616" font-family='"Liberation Sans", sans-serif'>50</text>
<line x1="415" y1="136.1" x2="420.2" y2="136.1" stroke="#1c1c1c" stroke-width="1.3"/>
<text x="412.6" y="140.1" font-size="10" font-weight="bold" text-anchor="end" fill="#161616" font-family='"Liberation Sans", sans-serif'>100</text>
<line x1="415" y1="104.9" x2="420.2" y2="104.9" stroke="#1c1c1c" stroke-width="1.3"/>
<text x="412.6" y="108.9" font-size="10" font-weight="bold" text-anchor="end" fill="#161616" font-family='"Liberation Sans", sans-serif'>150</text>
<line x1="415" y1="73.7" x2="420.2" y2="73.7" stroke="#1c1c1c" stroke-width="1.3"/>
<text x="412.6" y="77.7" font-size="10" font-weight="bold" text-anchor="end" fill="#161616" font-family='"Liberation Sans", sans-serif'>200</text>
<line x1="438.8" y1="198.5" x2="438.8" y2="203.7" stroke="#1c1c1c" stroke-width="1.3"/>
<text x="438.8" y="215.1" font-size="10" font-weight="bold" text-anchor="middle" fill="#161616" font-family='"Liberation Sans", sans-serif'>2264</text>
<line x1="482" y1="198.5" x2="482" y2="203.7" stroke="#1c1c1c" stroke-width="1.3"/>
<text x="482" y="215.1" font-size="10" font-weight="bold" text-anchor="middle" fill="#161616" font-family='"Liberation Sans", sans-serif'>226</text>
<line x1="525.2" y1="198.5" x2="525.2" y2="203.7" stroke="#1c1c1c" stroke-width="1.3"/>
<text x="525.2" y="215.1" font-size="10" font-weight="bold" text-anchor="middle" fill="#161616" font-family='"Liberation Sans", sans-serif'>23</text>
<text x="482.95" y="235.3" font-size="11" font-weight="bold" text-anchor="middle" fill="#161616" font-family='"Liberation Sans", sans-serif'>Folic acid [nmol/L]</text>
<text x="390.86" y="136.4" font-size="11" font-weight="bold" text-anchor="middle" fill="#161616" font-family='"Liberation Sans", sans-serif' transform="rotate(-90 390.86 136.4)">MNi/1000 BN</text>
<text x="403.2" y="57.2" font-size="18" font-weight="bold" fill="#161616" font-family='"Liberation Sans", sans-serif'>E</text>
<circle cx="433.9" cy="83.1" r="1.55" fill="#3d4185" fill-opacity="0.9"/>
<circle cx="433.9" cy="101.5" r="1.55" fill="#237038" fill-opacity="0.9"/>
<text x="448.9" y="86.5" font-size="10.3" stroke="#161616" stroke-width="0.2" fill="#161616" font-family='"Liberation Sans", sans-serif'>LG</text>
<text x="448.9" y="104.9" font-size="10.3" stroke="#161616" stroke-width="0.2" fill="#161616" font-family='"Liberation Sans", sans-serif'>HG</text>
<text x="525.9" y="81.3" font-size="9.8" stroke="#161616" stroke-width="0.35" letter-spacing="1.1" text-anchor="middle" fill="#161616" font-family='"Liberation Sans", sans-serif'>****</text>
<line x1="518.4" y1="81.9" x2="533.5" y2="81.9" stroke="#555555" stroke-width="1.1"/>
<rect x="608.5" y="172.2" width="10" height="23.7" fill="#d3def6" stroke="#7780b4" stroke-width="1"/>
<line x1="613.5" y1="168.5" x2="613.5" y2="175.9" stroke="#3d4185" stroke-width="0.85"/>
<line x1="611.9" y1="168.5" x2="615.1" y2="168.5" stroke="#3d4185" stroke-width="0.85"/>
<line x1="611.9" y1="175.9" x2="615.1" y2="175.9" stroke="#3d4185" stroke-width="0.85"/>
<circle cx="613.5" cy="167.2" r="1.5" fill="#3d4185"/>
<circle cx="609.5" cy="172.7" r="1.5" fill="#3d4185"/>
<circle cx="613.9" cy="175.6" r="1.5" fill="#3d4185"/>
<circle cx="617.5" cy="175.1" r="1.5" fill="#3d4185"/>
<rect x="624.5" y="163" width="10" height="32.9" fill="#d8e9c8" stroke="#5a9863" stroke-width="1"/>
<line x1="629.5" y1="143.4" x2="629.5" y2="182.6" stroke="#237038" stroke-width="0.85"/>
<line x1="627.9" y1="143.4" x2="631.1" y2="143.4" stroke="#237038" stroke-width="0.85"/>
<line x1="627.9" y1="182.6" x2="631.1" y2="182.6" stroke="#237038" stroke-width="0.85"/>
<circle cx="629.5" cy="133" r="1.5" fill="#237038"/>
<circle cx="629.5" cy="169.3" r="1.5" fill="#237038"/>
<circle cx="629.5" cy="172.7" r="1.5" fill="#237038"/>
<circle cx="629.5" cy="177.2" r="1.5" fill="#237038"/>
<rect x="651.5" y="144.8" width="10" height="51.1" fill="#d3def6" stroke="#7780b4" stroke-width="1"/>
<line x1="656.5" y1="142.5" x2="656.5" y2="147.1" stroke="#3d4185" stroke-width="0.85"/>
<line x1="654.9" y1="142.5" x2="658.1" y2="142.5" stroke="#3d4185" stroke-width="0.85"/>
<line x1="654.9" y1="147.1" x2="658.1" y2="147.1" stroke="#3d4185" stroke-width="0.85"/>
<circle cx="656.5" cy="140.2" r="1.5" fill="#3d4185"/>
<circle cx="652.8" cy="145.9" r="1.5" fill="#3d4185"/>
<circle cx="656.5" cy="146.9" r="1.5" fill="#3d4185"/>
<circle cx="659.3" cy="148.1" r="1.5" fill="#3d4185"/>
<rect x="667.5" y="150.6" width="10" height="45.3" fill="#d8e9c8" stroke="#5a9863" stroke-width="1"/>
<line x1="672.5" y1="146.1" x2="672.5" y2="155.1" stroke="#237038" stroke-width="0.85"/>
<line x1="670.9" y1="146.1" x2="674.1" y2="146.1" stroke="#237038" stroke-width="0.85"/>
<line x1="670.9" y1="155.1" x2="674.1" y2="155.1" stroke="#237038" stroke-width="0.85"/>
<circle cx="669.9" cy="146.1" r="1.5" fill="#237038"/>
<circle cx="675.1" cy="146.1" r="1.5" fill="#237038"/>
<circle cx="672.5" cy="152.7" r="1.5" fill="#237038"/>
<circle cx="672.5" cy="156.1" r="1.5" fill="#237038"/>
<rect x="695.5" y="105.1" width="10" height="90.8" fill="#d3def6" stroke="#7780b4" stroke-width="1"/>
<line x1="700.5" y1="89.7" x2="700.5" y2="120.5" stroke="#3d4185" stroke-width="0.85"/>
<line x1="698.9" y1="89.7" x2="702.1" y2="89.7" stroke="#3d4185" stroke-width="0.85"/>
<line x1="698.9" y1="120.5" x2="702.1" y2="120.5" stroke="#3d4185" stroke-width="0.85"/>
<circle cx="697.7" cy="91.9" r="1.5" fill="#3d4185"/>
<circle cx="703.4" cy="94.1" r="1.5" fill="#3d4185"/>
<circle cx="700.5" cy="108.8" r="1.5" fill="#3d4185"/>
<circle cx="700.5" cy="125.4" r="1.5" fill="#3d4185"/>
<rect x="711.5" y="109.6" width="10" height="86.3" fill="#d8e9c8" stroke="#5a9863" stroke-width="1"/>
<line x1="716.5" y1="95.5" x2="716.5" y2="123.7" stroke="#237038" stroke-width="0.85"/>
<line x1="714.9" y1="95.5" x2="718.1" y2="95.5" stroke="#237038" stroke-width="0.85"/>
<line x1="714.9" y1="123.7" x2="718.1" y2="123.7" stroke="#237038" stroke-width="0.85"/>
<circle cx="716.5" cy="94.1" r="1.5" fill="#237038"/>
<circle cx="716.5" cy="100.3" r="1.5" fill="#237038"/>
<circle cx="713.9" cy="121.5" r="1.5" fill="#237038"/>
<circle cx="719.1" cy="121.5" r="1.5" fill="#237038"/>
<line x1="602.8" y1="70.8" x2="602.8" y2="196.5" stroke="#1c1c1c" stroke-width="1.4"/>
<line x1="597.6" y1="195.9" x2="728.3" y2="195.9" stroke="#1c1c1c" stroke-width="1.4"/>
<text x="595.2" y="199.9" font-size="10" font-weight="bold" text-anchor="end" fill="#161616" font-family='"Liberation Sans", sans-serif'>0</text>
<line x1="597.6" y1="164.78" x2="602.8" y2="164.78" stroke="#1c1c1c" stroke-width="1.3"/>
<text x="595.2" y="168.78" font-size="10" font-weight="bold" text-anchor="end" fill="#161616" font-family='"Liberation Sans", sans-serif'>15</text>
<line x1="597.6" y1="133.65" x2="602.8" y2="133.65" stroke="#1c1c1c" stroke-width="1.3"/>
<text x="595.2" y="137.65" font-size="10" font-weight="bold" text-anchor="end" fill="#161616" font-family='"Liberation Sans", sans-serif'>30</text>
<line x1="597.6" y1="102.53" x2="602.8" y2="102.53" stroke="#1c1c1c" stroke-width="1.3"/>
<text x="595.2" y="106.53" font-size="10" font-weight="bold" text-anchor="end" fill="#161616" font-family='"Liberation Sans", sans-serif'>45</text>
<line x1="597.6" y1="71.4" x2="602.8" y2="71.4" stroke="#1c1c1c" stroke-width="1.3"/>
<text x="595.2" y="75.4" font-size="10" font-weight="bold" text-anchor="end" fill="#161616" font-family='"Liberation Sans", sans-serif'>60</text>
<line x1="621.2" y1="195.9" x2="621.2" y2="201.1" stroke="#1c1c1c" stroke-width="1.3"/>
<text x="621.2" y="212.5" font-size="10" font-weight="bold" text-anchor="middle" fill="#161616" font-family='"Liberation Sans", sans-serif'>2264</text>
<line x1="664.65" y1="195.9" x2="664.65" y2="201.1" stroke="#1c1c1c" stroke-width="1.3"/>
<text x="664.65" y="212.5" font-size="10" font-weight="bold" text-anchor="middle" fill="#161616" font-family='"Liberation Sans", sans-serif'>226</text>
<line x1="708.1" y1="195.9" x2="708.1" y2="201.1" stroke="#1c1c1c" stroke-width="1.3"/>
<text x="708.1" y="212.5" font-size="10" font-weight="bold" text-anchor="middle" fill="#161616" font-family='"Liberation Sans", sans-serif'>23</text>
<text x="665.55" y="232.7" font-size="11" font-weight="bold" text-anchor="middle" fill="#161616" font-family='"Liberation Sans", sans-serif'>Folic acid [nmol/L]</text>
<text x="578.86" y="133.65" font-size="11" font-weight="bold" text-anchor="middle" fill="#161616" font-family='"Liberation Sans", sans-serif' transform="rotate(-90 578.86 133.65)">NBUDs/ 1000 BN</text>
<text x="579.7" y="57.6" font-size="18" font-weight="bold" fill="#161616" font-family='"Liberation Sans", sans-serif'>F</text>
<rect x="426.5" y="381.3" width="10" height="11.1" fill="#d3def6" stroke="#7780b4" stroke-width="1"/>
<line x1="431.5" y1="374" x2="431.5" y2="388.6" stroke="#3d4185" stroke-width="0.85"/>
<line x1="429.9" y1="374" x2="433.1" y2="374" stroke="#3d4185" stroke-width="0.85"/>
<line x1="429.9" y1="388.6" x2="433.1" y2="388.6" stroke="#3d4185" stroke-width="0.85"/>
<circle cx="431.5" cy="374" r="1.5" fill="#3d4185"/>
<circle cx="428.9" cy="382.5" r="1.5" fill="#3d4185"/>
<circle cx="434.1" cy="382.5" r="1.5" fill="#3d4185"/>
<circle cx="431.5" cy="386.7" r="1.5" fill="#3d4185"/>
<rect x="442.5" y="384.1" width="10" height="8.3" fill="#d8e9c8" stroke="#5a9863" stroke-width="1"/>
<line x1="447.5" y1="383" x2="447.5" y2="385.2" stroke="#237038" stroke-width="0.85"/>
<line x1="445.9" y1="383" x2="449.1" y2="383" stroke="#237038" stroke-width="0.85"/>
<line x1="445.9" y1="385.2" x2="449.1" y2="385.2" stroke="#237038" stroke-width="0.85"/>
<circle cx="444.7" cy="382.8" r="1.5" fill="#237038"/>
<circle cx="447.7" cy="382.6" r="1.5" fill="#237038"/>
<circle cx="450.5" cy="382.9" r="1.5" fill="#237038"/>
<circle cx="445.5" cy="384.6" r="1.5" fill="#237038"/>
<circle cx="450.1" cy="386.2" r="1.5" fill="#237038"/>
<rect x="469.5" y="350.7" width="10" height="41.7" fill="#d3def6" stroke="#7780b4" stroke-width="1"/>
<line x1="474.5" y1="349" x2="474.5" y2="352.4" stroke="#3d4185" stroke-width="0.85"/>
<line x1="472.9" y1="349" x2="476.1" y2="349" stroke="#3d4185" stroke-width="0.85"/>
<line x1="472.9" y1="352.4" x2="476.1" y2="352.4" stroke="#3d4185" stroke-width="0.85"/>
<circle cx="471.9" cy="349.3" r="1.5" fill="#3d4185"/>
<circle cx="474.5" cy="349.1" r="1.5" fill="#3d4185"/>
<circle cx="477.1" cy="349.8" r="1.5" fill="#3d4185"/>
<circle cx="476.3" cy="353" r="1.5" fill="#3d4185"/>
<rect x="485.5" y="339.4" width="10" height="53" fill="#d8e9c8" stroke="#5a9863" stroke-width="1"/>
<line x1="490.5" y1="333.2" x2="490.5" y2="345.6" stroke="#237038" stroke-width="0.85"/>
<line x1="488.9" y1="333.2" x2="492.1" y2="333.2" stroke="#237038" stroke-width="0.85"/>
<line x1="488.9" y1="345.6" x2="492.1" y2="345.6" stroke="#237038" stroke-width="0.85"/>
<circle cx="487.9" cy="332.2" r="1.5" fill="#237038"/>
<circle cx="493.3" cy="334.4" r="1.5" fill="#237038"/>
<circle cx="490.5" cy="343" r="1.5" fill="#237038"/>
<circle cx="490.5" cy="346.9" r="1.5" fill="#237038"/>
<rect x="512.5" y="321.2" width="10" height="71.2" fill="#d3def6" stroke="#7780b4" stroke-width="1"/>
<line x1="517.5" y1="308.8" x2="517.5" y2="333.6" stroke="#3d4185" stroke-width="0.85"/>
<line x1="515.9" y1="308.8" x2="519.1" y2="308.8" stroke="#3d4185" stroke-width="0.85"/>
<line x1="515.9" y1="333.6" x2="519.1" y2="333.6" stroke="#3d4185" stroke-width="0.85"/>
<circle cx="514.9" cy="311.7" r="1.5" fill="#3d4185"/>
<circle cx="520.1" cy="313.6" r="1.5" fill="#3d4185"/>
<circle cx="517.5" cy="320.1" r="1.5" fill="#3d4185"/>
<circle cx="517.5" cy="338.5" r="1.5" fill="#3d4185"/>
<rect x="528.5" y="318.2" width="10" height="74.2" fill="#d8e9c8" stroke="#5a9863" stroke-width="1"/>
<line x1="533.5" y1="308.6" x2="533.5" y2="327.8" stroke="#237038" stroke-width="0.85"/>
<line x1="531.9" y1="308.6" x2="535.1" y2="308.6" stroke="#237038" stroke-width="0.85"/>
<line x1="531.9" y1="327.8" x2="535.1" y2="327.8" stroke="#237038" stroke-width="0.85"/>
<circle cx="533.5" cy="305.4" r="1.5" fill="#237038"/>
<circle cx="530.9" cy="317.6" r="1.5" fill="#237038"/>
<circle cx="536.5" cy="319.3" r="1.5" fill="#237038"/>
<circle cx="533.5" cy="328.3" r="1.5" fill="#237038"/>
<line x1="420.9" y1="267" x2="420.9" y2="393" stroke="#1c1c1c" stroke-width="1.4"/>
<line x1="415.7" y1="392.4" x2="546.4" y2="392.4" stroke="#1c1c1c" stroke-width="1.4"/>
<text x="413.3" y="396.4" font-size="10" font-weight="bold" text-anchor="end" fill="#161616" font-family='"Liberation Sans", sans-serif'>0</text>
<line x1="415.7" y1="361.2" x2="420.9" y2="361.2" stroke="#1c1c1c" stroke-width="1.3"/>
<text x="413.3" y="365.2" font-size="10" font-weight="bold" text-anchor="end" fill="#161616" font-family='"Liberation Sans", sans-serif'>15</text>
<line x1="415.7" y1="330" x2="420.9" y2="330" stroke="#1c1c1c" stroke-width="1.3"/>
<text x="413.3" y="334" font-size="10" font-weight="bold" text-anchor="end" fill="#161616" font-family='"Liberation Sans", sans-serif'>30</text>
<line x1="415.7" y1="298.8" x2="420.9" y2="298.8" stroke="#1c1c1c" stroke-width="1.3"/>
<text x="413.3" y="302.8" font-size="10" font-weight="bold" text-anchor="end" fill="#161616" font-family='"Liberation Sans", sans-serif'>45</text>
<line x1="415.7" y1="267.6" x2="420.9" y2="267.6" stroke="#1c1c1c" stroke-width="1.3"/>
<text x="413.3" y="271.6" font-size="10" font-weight="bold" text-anchor="end" fill="#161616" font-family='"Liberation Sans", sans-serif'>60</text>
<line x1="439.5" y1="392.4" x2="439.5" y2="397.6" stroke="#1c1c1c" stroke-width="1.3"/>
<text x="439.5" y="409" font-size="10" font-weight="bold" text-anchor="middle" fill="#161616" font-family='"Liberation Sans", sans-serif'>2264</text>
<line x1="482.7" y1="392.4" x2="482.7" y2="397.6" stroke="#1c1c1c" stroke-width="1.3"/>
<text x="482.7" y="409" font-size="10" font-weight="bold" text-anchor="middle" fill="#161616" font-family='"Liberation Sans", sans-serif'>226</text>
<line x1="525.9" y1="392.4" x2="525.9" y2="397.6" stroke="#1c1c1c" stroke-width="1.3"/>
<text x="525.9" y="409" font-size="10" font-weight="bold" text-anchor="middle" fill="#161616" font-family='"Liberation Sans", sans-serif'>23</text>
<text x="483.65" y="429.2" font-size="11" font-weight="bold" text-anchor="middle" fill="#161616" font-family='"Liberation Sans", sans-serif'>Folic acid [nmol/L]</text>
<text x="396.36" y="330" font-size="11" font-weight="bold" text-anchor="middle" fill="#161616" font-family='"Liberation Sans", sans-serif' transform="rotate(-90 396.36 330)">NPBs/ 1000 BN</text>
<text x="402.6" y="251.4" font-size="18" font-weight="bold" fill="#161616" font-family='"Liberation Sans", sans-serif'>G</text>
<rect x="606.5" y="382.1" width="10" height="12.7" fill="#d3def6" stroke="#7780b4" stroke-width="1"/>
<line x1="611.5" y1="379" x2="611.5" y2="385.2" stroke="#3d4185" stroke-width="0.85"/>
<line x1="609.9" y1="379" x2="613.1" y2="379" stroke="#3d4185" stroke-width="0.85"/>
<line x1="609.9" y1="385.2" x2="613.1" y2="385.2" stroke="#3d4185" stroke-width="0.85"/>
<circle cx="611.5" cy="378.6" r="1.5" fill="#3d4185"/>
<circle cx="607.9" cy="382.5" r="1.5" fill="#3d4185"/>
<circle cx="611.5" cy="382.6" r="1.5" fill="#3d4185"/>
<circle cx="615.5" cy="383.1" r="1.5" fill="#3d4185"/>
<rect x="622.5" y="377.2" width="10" height="17.6" fill="#d8e9c8" stroke="#5a9863" stroke-width="1"/>
<line x1="627.5" y1="373.5" x2="627.5" y2="380.9" stroke="#237038" stroke-width="0.85"/>
<line x1="625.9" y1="373.5" x2="629.1" y2="373.5" stroke="#237038" stroke-width="0.85"/>
<line x1="625.9" y1="380.9" x2="629.1" y2="380.9" stroke="#237038" stroke-width="0.85"/>
<circle cx="624.9" cy="372.6" r="1.5" fill="#237038"/>
<circle cx="630" cy="375.4" r="1.5" fill="#237038"/>
<circle cx="624.9" cy="379.8" r="1.5" fill="#237038"/>
<circle cx="630.3" cy="380.2" r="1.5" fill="#237038"/>
<rect x="649.5" y="349.1" width="10" height="45.7" fill="#d3def6" stroke="#7780b4" stroke-width="1"/>
<line x1="654.5" y1="345.5" x2="654.5" y2="352.7" stroke="#3d4185" stroke-width="0.85"/>
<line x1="652.9" y1="345.5" x2="656.1" y2="345.5" stroke="#3d4185" stroke-width="0.85"/>
<line x1="652.9" y1="352.7" x2="656.1" y2="352.7" stroke="#3d4185" stroke-width="0.85"/>
<circle cx="654.5" cy="343.7" r="1.5" fill="#3d4185"/>
<circle cx="650.9" cy="349.1" r="1.5" fill="#3d4185"/>
<circle cx="654.5" cy="350.2" r="1.5" fill="#3d4185"/>
<circle cx="658.1" cy="351.8" r="1.5" fill="#3d4185"/>
<rect x="665.5" y="342.1" width="10" height="52.7" fill="#d8e9c8" stroke="#5a9863" stroke-width="1"/>
<line x1="670.5" y1="336.5" x2="670.5" y2="347.7" stroke="#237038" stroke-width="0.85"/>
<line x1="668.9" y1="336.5" x2="672.1" y2="336.5" stroke="#237038" stroke-width="0.85"/>
<line x1="668.9" y1="347.7" x2="672.1" y2="347.7" stroke="#237038" stroke-width="0.85"/>
<circle cx="668" cy="335.5" r="1.5" fill="#237038"/>
<circle cx="673.4" cy="337.3" r="1.5" fill="#237038"/>
<circle cx="670.5" cy="343.5" r="1.5" fill="#237038"/>
<circle cx="670.5" cy="351.2" r="1.5" fill="#237038"/>
<rect x="693.5" y="316.4" width="10" height="78.4" fill="#d3def6" stroke="#7780b4" stroke-width="1"/>
<line x1="698.5" y1="313.5" x2="698.5" y2="319.3" stroke="#3d4185" stroke-width="0.85"/>
<line x1="696.9" y1="313.5" x2="700.1" y2="313.5" stroke="#3d4185" stroke-width="0.85"/>
<line x1="696.9" y1="319.3" x2="700.1" y2="319.3" stroke="#3d4185" stroke-width="0.85"/>
<circle cx="695.7" cy="313" r="1.5" fill="#3d4185"/>
<circle cx="701.5" cy="314.1" r="1.5" fill="#3d4185"/>
<circle cx="695.7" cy="318.4" r="1.5" fill="#3d4185"/>
<circle cx="701.5" cy="320.1" r="1.5" fill="#3d4185"/>
<rect x="709.5" y="296.4" width="10" height="98.4" fill="#d8e9c8" stroke="#5a9863" stroke-width="1"/>
<line x1="714.5" y1="290.3" x2="714.5" y2="302.5" stroke="#237038" stroke-width="0.85"/>
<line x1="712.9" y1="290.3" x2="716.1" y2="290.3" stroke="#237038" stroke-width="0.85"/>
<line x1="712.9" y1="302.5" x2="716.1" y2="302.5" stroke="#237038" stroke-width="0.85"/>
<circle cx="714.5" cy="287.7" r="1.5" fill="#237038"/>
<circle cx="714.5" cy="291.9" r="1.5" fill="#237038"/>
<circle cx="711.9" cy="300.9" r="1.5" fill="#237038"/>
<circle cx="717.4" cy="304.6" r="1.5" fill="#237038"/>
<line x1="601" y1="269.4" x2="601" y2="395.4" stroke="#1c1c1c" stroke-width="1.4"/>
<line x1="595.8" y1="394.8" x2="726.5" y2="394.8" stroke="#1c1c1c" stroke-width="1.4"/>
<text x="593.4" y="398.8" font-size="10" font-weight="bold" text-anchor="end" fill="#161616" font-family='"Liberation Sans", sans-serif'>0</text>
<line x1="595.8" y1="374" x2="601" y2="374" stroke="#1c1c1c" stroke-width="1.3"/>
<text x="593.4" y="378" font-size="10" font-weight="bold" text-anchor="end" fill="#161616" font-family='"Liberation Sans", sans-serif'>50</text>
<line x1="595.8" y1="353.2" x2="601" y2="353.2" stroke="#1c1c1c" stroke-width="1.3"/>
<text x="593.4" y="357.2" font-size="10" font-weight="bold" text-anchor="end" fill="#161616" font-family='"Liberation Sans", sans-serif'>100</text>
<line x1="595.8" y1="332.4" x2="601" y2="332.4" stroke="#1c1c1c" stroke-width="1.3"/>
<text x="593.4" y="336.4" font-size="10" font-weight="bold" text-anchor="end" fill="#161616" font-family='"Liberation Sans", sans-serif'>150</text>
<line x1="595.8" y1="311.6" x2="601" y2="311.6" stroke="#1c1c1c" stroke-width="1.3"/>
<text x="593.4" y="315.6" font-size="10" font-weight="bold" text-anchor="end" fill="#161616" font-family='"Liberation Sans", sans-serif'>200</text>
<line x1="595.8" y1="290.8" x2="601" y2="290.8" stroke="#1c1c1c" stroke-width="1.3"/>
<text x="593.4" y="294.8" font-size="10" font-weight="bold" text-anchor="end" fill="#161616" font-family='"Liberation Sans", sans-serif'>250</text>
<line x1="595.8" y1="270" x2="601" y2="270" stroke="#1c1c1c" stroke-width="1.3"/>
<text x="593.4" y="274" font-size="10" font-weight="bold" text-anchor="end" fill="#161616" font-family='"Liberation Sans", sans-serif'>300</text>
<line x1="619.6" y1="394.8" x2="619.6" y2="400" stroke="#1c1c1c" stroke-width="1.3"/>
<text x="619.6" y="411.4" font-size="10" font-weight="bold" text-anchor="middle" fill="#161616" font-family='"Liberation Sans", sans-serif'>2264</text>
<line x1="662.8" y1="394.8" x2="662.8" y2="400" stroke="#1c1c1c" stroke-width="1.3"/>
<text x="662.8" y="411.4" font-size="10" font-weight="bold" text-anchor="middle" fill="#161616" font-family='"Liberation Sans", sans-serif'>226</text>
<line x1="706" y1="394.8" x2="706" y2="400" stroke="#1c1c1c" stroke-width="1.3"/>
<text x="706" y="411.4" font-size="10" font-weight="bold" text-anchor="middle" fill="#161616" font-family='"Liberation Sans", sans-serif'>23</text>
<text x="663.75" y="431.6" font-size="11" font-weight="bold" text-anchor="middle" fill="#161616" font-family='"Liberation Sans", sans-serif'>Folic acid [nmol/L]</text>
<text x="571.36" y="333.4" font-size="11" font-weight="bold" text-anchor="middle" fill="#161616" font-family='"Liberation Sans", sans-serif' transform="rotate(-90 571.36 333.4)">Total DNA damage/ 1000 BN</text>
<text x="580.8" y="251.4" font-size="18" font-weight="bold" fill="#161616" font-family='"Liberation Sans", sans-serif'>H</text>
<text x="706.7" y="277.9" font-size="9.8" stroke="#161616" stroke-width="0.35" letter-spacing="1.1" text-anchor="middle" fill="#161616" font-family='"Liberation Sans", sans-serif'>****</text>
<line x1="699" y1="278.2" x2="714.1" y2="278.2" stroke="#555555" stroke-width="1.1"/>
</svg>
</body></html>
